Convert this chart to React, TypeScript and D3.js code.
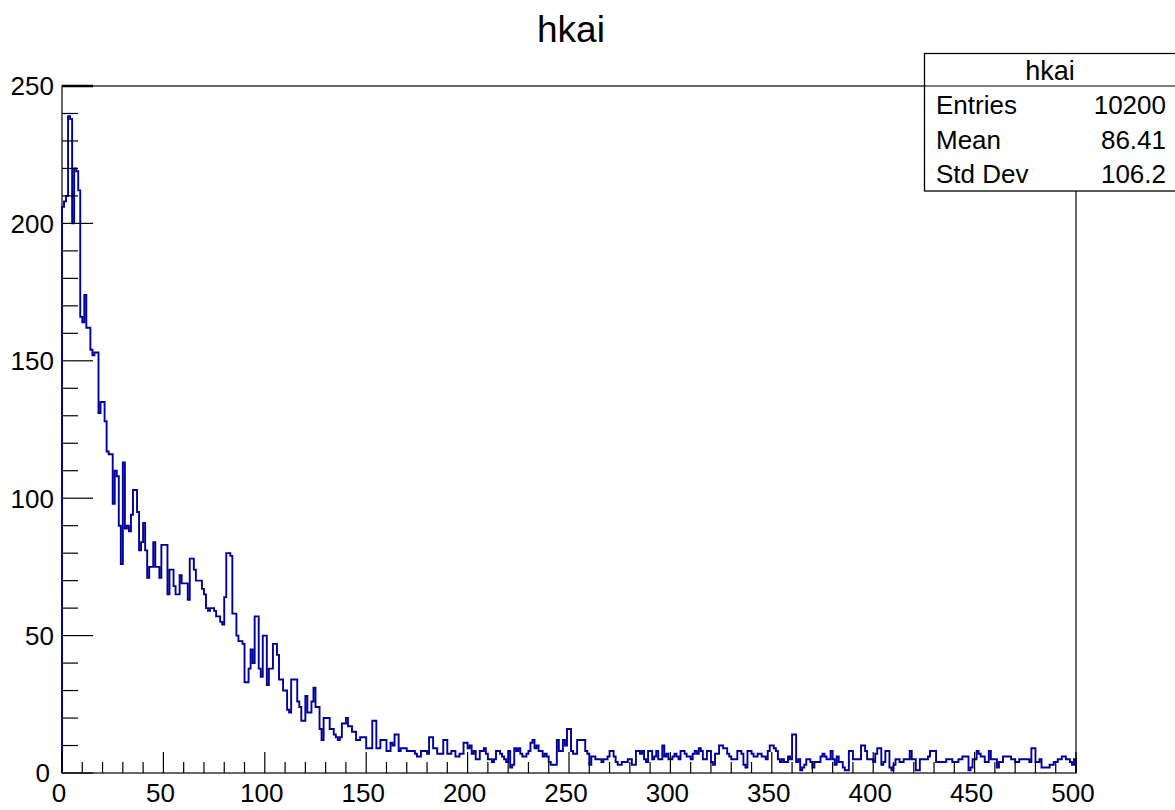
import React from "react";
import * as d3 from "d3";

// Bin contents of hkai: 500 bins over [0, 500)
const counts: number[] = [
  206, 208, 210, 239, 238, 200, 220, 219, 212, 166,
  164, 174, 162, 162, 154, 152, 153, 153, 131, 135,
  135, 128, 117, 116, 116, 98, 110, 108, 90, 76,
  113, 89, 90, 88, 94, 103, 103, 95, 81, 84,
  91, 81, 71, 75, 75, 84, 75, 75, 71, 83,
  83, 83, 65, 74, 74, 68, 65, 65, 72, 69,
  69, 69, 63, 78, 78, 74, 70, 70, 70, 67,
  65, 60, 59, 60, 60, 59, 57, 57, 55, 54,
  64, 80, 80, 79, 58, 58, 50, 48, 48, 47,
  33, 33, 38, 45, 40, 57, 57, 38, 35, 50,
  50, 32, 38, 38, 47, 47, 43, 34, 34, 30,
  30, 23, 22, 34, 34, 34, 26, 24, 19, 19,
  28, 22, 22, 26, 31, 24, 24, 16, 12, 20,
  20, 20, 16, 16, 14, 13, 12, 13, 18, 18,
  20, 17, 17, 15, 15, 12, 12, 13, 13, 13,
  9, 9, 9, 19, 19, 9, 9, 12, 12, 12,
  8, 8, 11, 10, 14, 14, 8, 9, 9, 9,
  8, 8, 8, 8, 7, 6, 6, 8, 8, 8,
  7, 13, 13, 9, 9, 7, 7, 7, 12, 12,
  7, 7, 8, 8, 6, 6, 7, 7, 11, 11,
  9, 10, 7, 8, 5, 5, 8, 8, 9, 7,
  5, 5, 4, 5, 8, 8, 7, 6, 5, 4,
  8, 2, 3, 9, 8, 9, 7, 6, 6, 7,
  8, 11, 12, 9, 10, 8, 8, 6, 7, 6,
  4, 3, 3, 3, 12, 8, 8, 12, 10, 16,
  16, 8, 7, 7, 12, 12, 12, 12, 8, 7,
  3, 6, 6, 5, 5, 5, 4, 5, 5, 6,
  8, 8, 6, 4, 3, 3, 4, 4, 4, 5,
  5, 3, 3, 8, 8, 7, 8, 5, 4, 8,
  8, 5, 6, 8, 5, 5, 10, 6, 7, 5,
  5, 6, 7, 6, 5, 8, 8, 7, 6, 6,
  5, 7, 8, 7, 9, 8, 5, 5, 8, 8,
  4, 3, 7, 7, 10, 10, 9, 9, 7, 6,
  5, 5, 5, 8, 8, 7, 3, 2, 8, 8,
  7, 6, 6, 7, 7, 6, 6, 5, 8, 10,
  10, 9, 8, 5, 4, 5, 4, 4, 6, 5,
  14, 14, 4, 5, 1, 2, 3, 5, 5, 4,
  2, 4, 4, 4, 6, 7, 6, 5, 5, 8,
  5, 3, 6, 4, 4, 2, 1, 1, 8, 8,
  5, 5, 5, 5, 10, 10, 8, 5, 5, 5,
  4, 7, 9, 9, 3, 4, 8, 8, 2, 1,
  3, 5, 5, 4, 4, 5, 5, 5, 8, 5,
  5, 1, 1, 5, 5, 5, 5, 6, 8, 8,
  8, 4, 4, 4, 4, 4, 5, 5, 5, 4,
  4, 4, 5, 5, 6, 6, 6, 1, 2, 5,
  5, 8, 7, 6, 6, 4, 4, 8, 5, 5,
  5, 2, 4, 4, 6, 6, 6, 6, 5, 5,
  4, 4, 5, 5, 5, 5, 5, 4, 9, 9,
  4, 4, 5, 2, 2, 2, 2, 3, 3, 4,
  4, 5, 5, 6, 6, 5, 5, 4, 3, 5,
];

const xDomain: [number, number] = [0, 500];
const yDomain: [number, number] = [0, 250];
const xMajorTicks = [0, 50, 100, 150, 200, 250, 300, 350, 400, 450, 500];
const yMajorTicks = [0, 50, 100, 150, 200, 250];
const histTitle = "hkai";
const statLabels = ["Entries", "Mean", "Std Dev"];
const statValues = ["10200", "86.41", "106.2"];

const W = 1175;
const H = 810;
const FONT = "'Liberation Sans', Arial, Helvetica, sans-serif";

export default function App() {
  const left = 62;
  const right = 1076;
  const top = 86;
  const bottom = 773;

  const x = d3.scaleLinear().domain(xDomain).range([left, right]);
  const y = d3.scaleLinear().domain(yDomain).range([bottom, top]);

  const binW = (xDomain[1] - xDomain[0]) / counts.length;

  // Outline of the histogram as a step path
  const pts: [number, number][] = [[xDomain[0], 0]];
  counts.forEach((c, i) => {
    pts.push([xDomain[0] + i * binW, c]);
    pts.push([xDomain[0] + (i + 1) * binW, c]);
  });
  pts.push([xDomain[1], 0]);
  const line = d3
    .line<[number, number]>()
    .x((d) => x(d[0]))
    .y((d) => y(d[1]));
  const histPath = line(pts) || "";

  const xMinor = d3.range(xDomain[0], xDomain[1] + 0.001, 10);
  const yMinor = d3.range(yDomain[0], yDomain[1] + 0.001, 10);

  const boxX = 924.5;
  const boxY = 53.5;
  const boxW = 260;
  const boxH = 137.5;

  return (
    <svg
      width={W}
      height={H}
      style={{ position: "absolute", left: 0, top: 0, background: "#fff" }}
      fontFamily={FONT}
    >
      <rect x={0} y={0} width={W} height={H} fill="#fff" />

      {/* title */}
      <text x={571} y={42} fontSize={37} textAnchor="middle" fill="#000">
        {histTitle}
      </text>

      {/* frame */}
      <rect
        x={left}
        y={top}
        width={right - left}
        height={bottom - top}
        fill="none"
        stroke="#000"
        strokeWidth={1.2}
      />

      {/* histogram */}
      <path d={histPath} fill="none" stroke="#00009c" strokeWidth={1.9} />

      {/* x axis ticks */}
      {xMinor.map((v) => {
        const major = v % 50 === 0;
        return (
          <line
            key={"xt" + v}
            x1={x(v)}
            x2={x(v)}
            y1={bottom}
            y2={bottom - (major ? 21 : 11)}
            stroke="#000"
            strokeWidth={1.2}
          />
        );
      })}
      {xMajorTicks.map((v) => (
        <text
          key={"xl" + v}
          x={x(v) - 3}
          y={802}
          fontSize={26}
          textAnchor="middle"
          fill="#000"
        >
          {v}
        </text>
      ))}

      {/* y axis ticks */}
      {yMinor.map((v) => {
        const major = v % 50 === 0;
        return (
          <line
            key={"yt" + v}
            x1={left}
            x2={left + (major ? 31 : 16)}
            y1={y(v)}
            y2={y(v)}
            stroke="#000"
            strokeWidth={major && v === yDomain[1] ? 2.5 : 1.2}
          />
        );
      })}
      {yMajorTicks.map((v) => (
        <text
          key={"yl" + v}
          x={v === 0 ? 50 : 54}
          y={y(v)}
          dy="0.36em"
          fontSize={26}
          textAnchor="end"
          fill="#000"
        >
          {v}
        </text>
      ))}

      {/* statistics box */}
      <rect
        x={boxX}
        y={boxY}
        width={boxW}
        height={boxH}
        fill="#fff"
        stroke="#000"
        strokeWidth={1.3}
      />
      <line
        x1={boxX}
        x2={boxX + boxW}
        y1={86}
        y2={86}
        stroke="#000"
        strokeWidth={1.2}
      />
      <text x={1050} y={80} fontSize={27} textAnchor="middle" fill="#000">
        {histTitle}
      </text>
      {statLabels.map((lab, i) => (
        <g key={lab}>
          <text x={936} y={114 + i * 34.5} fontSize={26} fill="#000">
            {lab}
          </text>
          <text
            x={1166}
            y={114 + i * 34.5}
            fontSize={26}
            textAnchor="end"
            fill="#000"
          >
            {statValues[i]}
          </text>
        </g>
      ))}
    </svg>
  );
}
